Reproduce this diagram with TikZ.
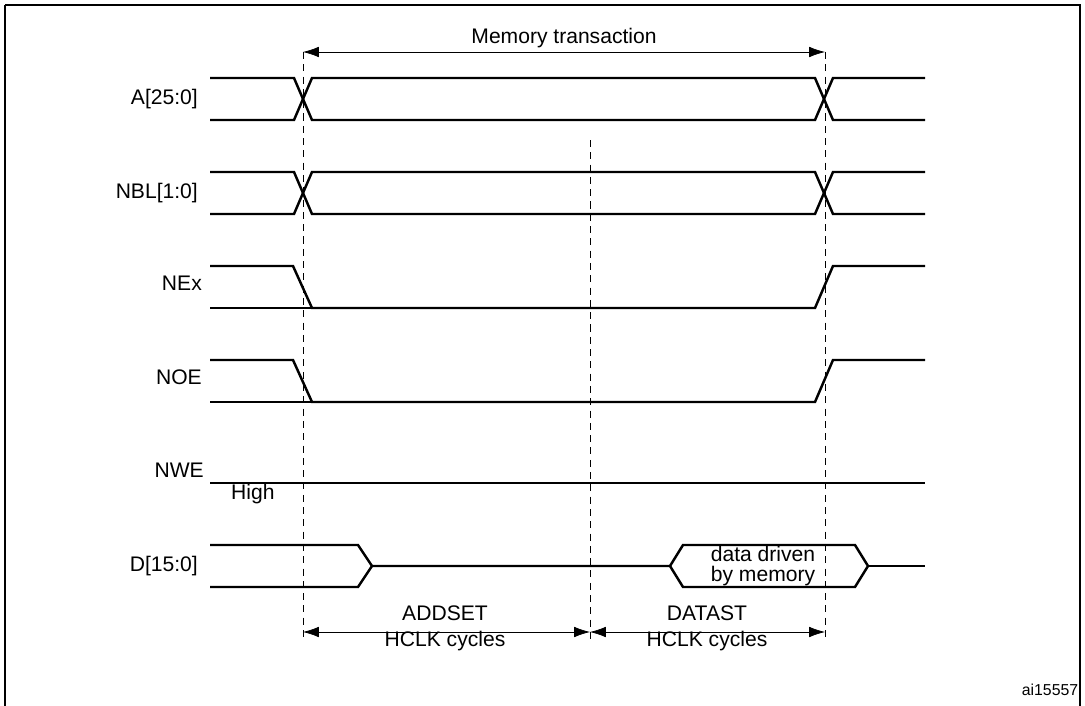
\documentclass[tikz,border=0pt]{standalone}
\usepackage{fontspec}
\setmainfont{Liberation Sans}
\usetikzlibrary{arrows.meta}

\begin{document}
\begin{tikzpicture}[
        x=0.02cm, y=-0.02cm,
        font=\fontsize{12}{13}\selectfont,
        signal/.style={line width=1.4pt},
        guide/.style={dashed, thin, dash pattern=on 4pt off 3pt},
        span/.style={thin, {Latex[length=9pt,width=6pt]}-{Latex[length=9pt,width=6pt]}},
        signame/.style={anchor=east}
    ]
    \useasboundingbox (0,0) rectangle (1085,706);
    \draw[line width=1.2pt] (5,5) -- (5,720) (5,5) -- (1080,5) -- (1080,720);

    % guides
    \coordinate (t0) at (303,52);
    \coordinate (t2) at (825,52);
    \draw[guide] (t0) -- (303,640);
    \draw[guide] (590,140) -- (590,640);
    \draw[guide] (t2) -- (825,640);
    \draw[span] (t0) -- (t2) node[midway, above=-1pt] (mt) {Memory transaction};

    % bus signals
    \foreach \yh/\lbl [count=\i] in {78/A[25:0], 172/NBL[1:0]} {
        \pgfmathsetmacro{\yl}{\yh+42}
        \node[signame] (bus\i) at (204,\yh+21) {\lbl};
        \draw[signal] (210,\yh) -- (294,\yh) -- (312,\yl) -- (815,\yl) -- (833,\yh) -- (925,\yh);
        \draw[signal] (210,\yl) -- (294,\yl) -- (312,\yh) -- (815,\yh) -- (833,\yl) -- (925,\yl);
    }

    % strobes
    \foreach \yh/\lbl [count=\i] in {266/NEx, 360/NOE} {
        \pgfmathsetmacro{\yl}{\yh+42}
        \node[signame] (str\i) at (208,\yh+17) {\lbl};
        \draw[signal] (210,\yh) -- (293,\yh) -- (312,\yl) -- (815,\yl) -- (833,\yh) -- (925,\yh);
        \draw[signal] (210,\yl) -- (312,\yl);
    }

    % write enable
    \node[signame] (nwe) at (210,470) {NWE};
    \node[anchor=west] (high) at (225,494) {High};
    \draw[signal] (210,483) -- (925,483);

    % data
    \node[signame] (data) at (204,566) {D[15:0]};
    \draw[signal] (210,545) -- (358,545) -- (372,566) -- (358,587) -- (210,587);
    \draw[signal] (372,566) -- (670,566) -- (683,545) -- (855,545) -- (868,566) -- (855,587) -- (683,587) -- (670,566);
    \draw[signal] (868,566) -- (925,566);
    \node[align=center, font=\fontsize{12}{11}\selectfont] (ddm) at (763,566) {data driven\\by memory};

    % timing
    \draw[span] (303,632) -- (590,632);
    \draw[span] (590,632) -- (825,632);
    \node (addset) at (445,613) {ADDSET};
    \node (hclk1) at (445,641) {HCLK cycles};
    \node (datast) at (707,613) {DATAST};
    \node (hclk2) at (707,641) {HCLK cycles};

    \node[font=\fontsize{9}{10}\selectfont] (ref) at (1050,690) {ai15557};
\end{tikzpicture}
\end{document}
